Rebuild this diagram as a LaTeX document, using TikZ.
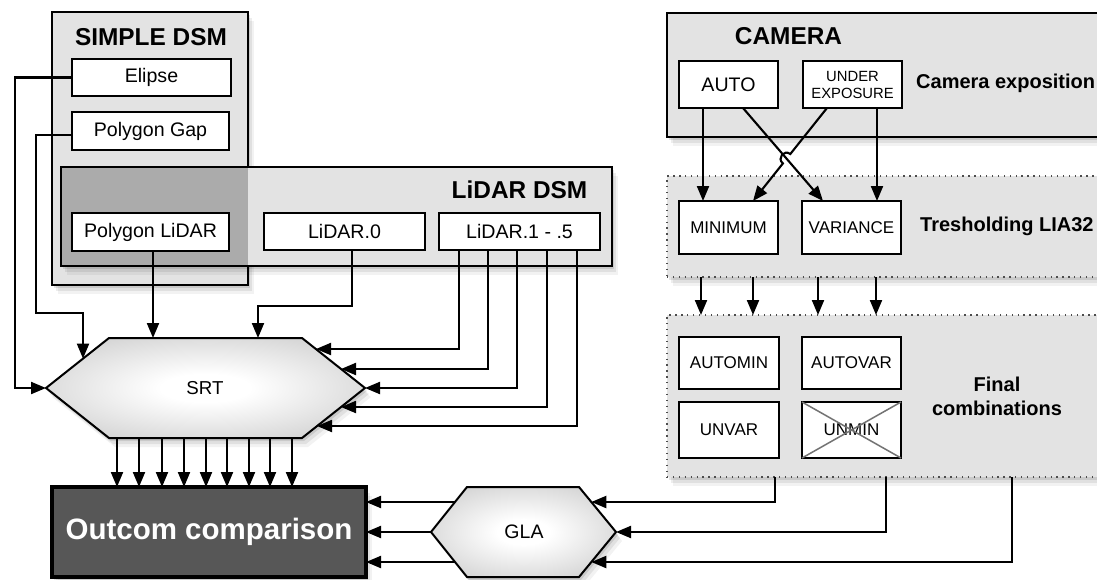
\documentclass[tikz,border=0pt]{standalone}
\usepackage{fontspec}
\setmainfont{Liberation Sans}
\usetikzlibrary{arrows.meta,shadows,calc}
\definecolor{boxgray}{gray}{0.89}
\definecolor{overgray}{gray}{0.67}
\definecolor{outgray}{gray}{0.34}
\definecolor{hexedge}{gray}{0.68}
\definecolor{hexcorner}{gray}{0.62}
\definecolor{dotgray}{gray}{0.3}
\definecolor{crossgray}{gray}{0.45}
\pgfdeclareradialshading{hexshade}{\pgfpoint{0bp}{0bp}}{color(0bp)=(white); color(7bp)=(white); color(50bp)=(hexedge); color(71bp)=(hexcorner)}
\tikzset{
  sh/.style={drop shadow={shadow xshift=2pt,shadow yshift=-3pt,opacity=0.10,fill=black},
             drop shadow={shadow xshift=4pt,shadow yshift=-6pt,opacity=0.07,fill=black},
             drop shadow={shadow xshift=6pt,shadow yshift=-9pt,opacity=0.05,fill=black}},
  group/.style={rectangle, draw=black, line width=2pt, fill=boxgray, inner sep=0pt, outer sep=0pt, sh},
  dotgroup/.style={rectangle, draw=dotgray, line width=1.7pt, dash pattern=on 1.3pt off 4.6pt, fill=boxgray, inner sep=0pt, outer sep=0pt, sh},
  item/.style={rectangle, draw=black, fill=white, line width=2pt, inner sep=0pt, outer sep=0pt, font=\fontsize{19.6}{22}\selectfont},
  smitem/.style={item, font=\fontsize{17}{20}\selectfont},
  grouptitle/.style={font=\bfseries\fontsize{24.4}{28}\selectfont, inner sep=0pt},
  lbl/.style={font=\bfseries\fontsize{20}{24}\selectfont, inner sep=0pt},
  conn/.style={line width=2.1pt},
  arr/.style={conn, -{Triangle[length=15pt,width=12pt]}},
  hexa/.style={shading=hexshade, draw=black, line width=2pt, sh}
}
\begin{document}
\begin{tikzpicture}[x=1pt,y=-1pt]
\useasboundingbox (0,0) rectangle (1097,579);
\clip (0,0) rectangle (1097,579);
\fill[white] (0,0) rectangle (1097,579);

% SIMPLE DSM group
\node[group, minimum width=196pt, minimum height=273pt] (simple) at (150,148.5) {};
\node[grouptitle] (simpletitle) at (151,37) {SIMPLE DSM};
\node[item, minimum width=159pt, minimum height=37pt] (elipse) at (151.5,77.5) {Elipse};
\node[item, minimum width=157pt, minimum height=38pt] (polygap) at (150.5,131) {Polygon Gap};

% LiDAR DSM group
\node[rectangle, fill=boxgray, inner sep=0pt, outer sep=0pt, minimum width=551pt, minimum height=99pt, sh] (lidar) at (336.5,216.5) {};
\fill[overgray] (lidar.north west) rectangle (simple.east |- lidar.south);
\draw[line width=2pt] (lidar.north west) rectangle (lidar.south east);
\node[grouptitle] (lidartitle) at (519.5,190) {LiDAR DSM};
\node[item, minimum width=157pt, minimum height=38pt] (polylidar) at (150.5,232) {Polygon LiDAR};
\node[item, minimum width=161pt, minimum height=37pt] (lidar0) at (344.5,231.5) {LiDAR.0};
\node[item, minimum width=161pt, minimum height=37pt] (lidar15) at (519.5,231.5) {LiDAR.1 - .5};

% CAMERA group
\node[group, minimum width=443pt, minimum height=124pt] (camera) at (888.5,75) {};
\node[grouptitle] (cameratitle) at (788.5,36) {CAMERA};
\node[item, minimum width=99pt, minimum height=47pt] (auto) at (728.5,84.5) {AUTO};
\node[item, minimum width=99pt, minimum height=47pt, align=center, font=\fontsize{14.8}{17}\selectfont] (under) at (852.5,84.5) {UNDER\\EXPOSURE};
\node[lbl, anchor=west] (camexp) at (916,83) {Camera exposition};

% Tresholding group
\node[dotgroup, minimum width=443pt, minimum height=101pt] (thresh) at (888.5,226.5) {};
\node[smitem, minimum width=99pt, minimum height=53pt] (minimum) at (728.5,227.5) {MINIMUM};
\node[smitem, minimum width=99pt, minimum height=53pt] (variance) at (851.5,227.5) {VARIANCE};
\node[lbl, anchor=west] (threshtxt) at (920,226) {Tresholding LIA32};

% Final combinations group
\node[dotgroup, minimum width=443pt, minimum height=162pt] (final) at (888.5,396) {};
\node[smitem, minimum width=100pt, minimum height=52pt] (automin) at (729,363) {AUTOMIN};
\node[smitem, minimum width=99pt, minimum height=52pt] (autovar) at (851.5,363) {AUTOVAR};
\node[smitem, minimum width=100pt, minimum height=56pt] (unvar) at (729,430) {UNVAR};
\node[smitem, minimum width=99pt, minimum height=56pt] (unmin) at (851.5,430) {UNMIN};
\draw[crossgray, line width=1.5pt] (unmin.north west) -- (unmin.south east)
  (unmin.north east) -- (unmin.south west);
\node[lbl, align=center] (finaltxt) at (997,396) {Final\\combinations};

% SRT hexagon
\coordinate (srtL) at (46,388);
\coordinate (srtTL) at (109,338);
\coordinate (srtTR) at (302,338);
\coordinate (srtR) at (365,388);
\coordinate (srtBR) at (302,438);
\coordinate (srtBL) at (109,438);
\shade[hexa] (srtL) -- (srtTL) -- (srtTR) -- (srtR) -- (srtBR) -- (srtBL) -- cycle;
\node[font=\fontsize{18.7}{22}\selectfont] (srt) at (205,388) {SRT};

% GLA hexagon
\coordinate (glaL) at (431,532);
\coordinate (glaTL) at (467,487);
\coordinate (glaTR) at (579,487);
\coordinate (glaR) at (616,532);
\coordinate (glaBR) at (579,577);
\coordinate (glaBL) at (467,577);
\shade[hexa] (glaL) -- (glaTL) -- (glaTR) -- (glaR) -- (glaBR) -- (glaBL) -- cycle;
\node[font=\fontsize{19.5}{22}\selectfont] (gla) at (524,532) {GLA};

% Outcome
\node[rectangle, draw=black, line width=3.5pt, fill=outgray, inner sep=0pt, outer sep=0pt,
      minimum width=314pt, minimum height=90pt, text=white,
      font=\bfseries\fontsize{29.5}{34}\selectfont, sh] (outcome) at (209,532) {Outcom comparison};

% edge points
\coordinate (srtE1) at (83,358.6);
\coordinate (srtT2) at (258,338);
\coordinate (srtR1) at (316,349);
\coordinate (srtR2) at (341,369);
\coordinate (srtR4) at (341,407);
\coordinate (srtR5) at (317,426);
\coordinate (glaE1) at (591.3,502);
\coordinate (glaE2) at (591.3,562);
\coordinate (glaW1) at (455,502);
\coordinate (glaW2) at (455,562);

% connectors into SRT
\draw[arr] (elipse.west) -- ++(-57,0) |- (srtL);
\draw[arr] ([yshift=-4pt]polygap.west) -- ++(-36,0) |- (83,313) -- (srtE1);
\draw[arr] ([xshift=2.5pt]polylidar.south) -- ([xshift=2.5pt]polylidar.south |- srtTL);
\draw[arr] ([xshift=7.5pt]lidar0.south) -- ++(0,56) -| (srtT2);
\draw[arr] (lidar15.south -| 459,0) |- (srtR1);
\draw[arr] (lidar15.south -| 488,0) |- (srtR2);
\draw[arr] (lidar15.south -| 517,0) |- (srtR);
\draw[arr] (lidar15.south -| 547,0) |- (srtR4);
\draw[arr] (lidar15.south -| 577,0) |- (srtR5);

% SRT to outcome
\foreach \xx in {117,139,162,184,206,227,249,270,292}
  \draw[arr] (srtBL -| \xx,0) -- (outcome.north -| \xx,0);

% camera to thresholding
\draw[arr] (auto.south -| 703,0) -- (minimum.north -| 703,0);
\draw[arr] (auto.south -| 743,0) -- (variance.north -| 823,0);
\draw[arr] (under.south -| 827,0) -- (790.3,154.0) .. controls (784.0,149.0) and (776.6,158.4) .. (782.9,163.4) -- (minimum.north -| 753,0);
\draw[arr] (under.south -| 877,0) -- (variance.north -| 877,0);

% thresholding to final
\foreach \xx in {701,753,818,876}
  \draw[arr] (thresh.south -| \xx,0) -- (final.north -| \xx,0);

% final to GLA
\draw[arr] (final.south -| 775,0) |- (glaE1);
\draw[arr] (final.south -| 886,0) |- (glaR);
\draw[arr] (final.south -| 1012,0) |- (glaE2);

% GLA to outcome
\draw[arr] (glaW1) -- (outcome.east |- glaW1);
\draw[arr] (glaL) -- (outcome.east |- glaL);
\draw[arr] (glaW2) -- (outcome.east |- glaW2);
\end{tikzpicture}
\end{document}
